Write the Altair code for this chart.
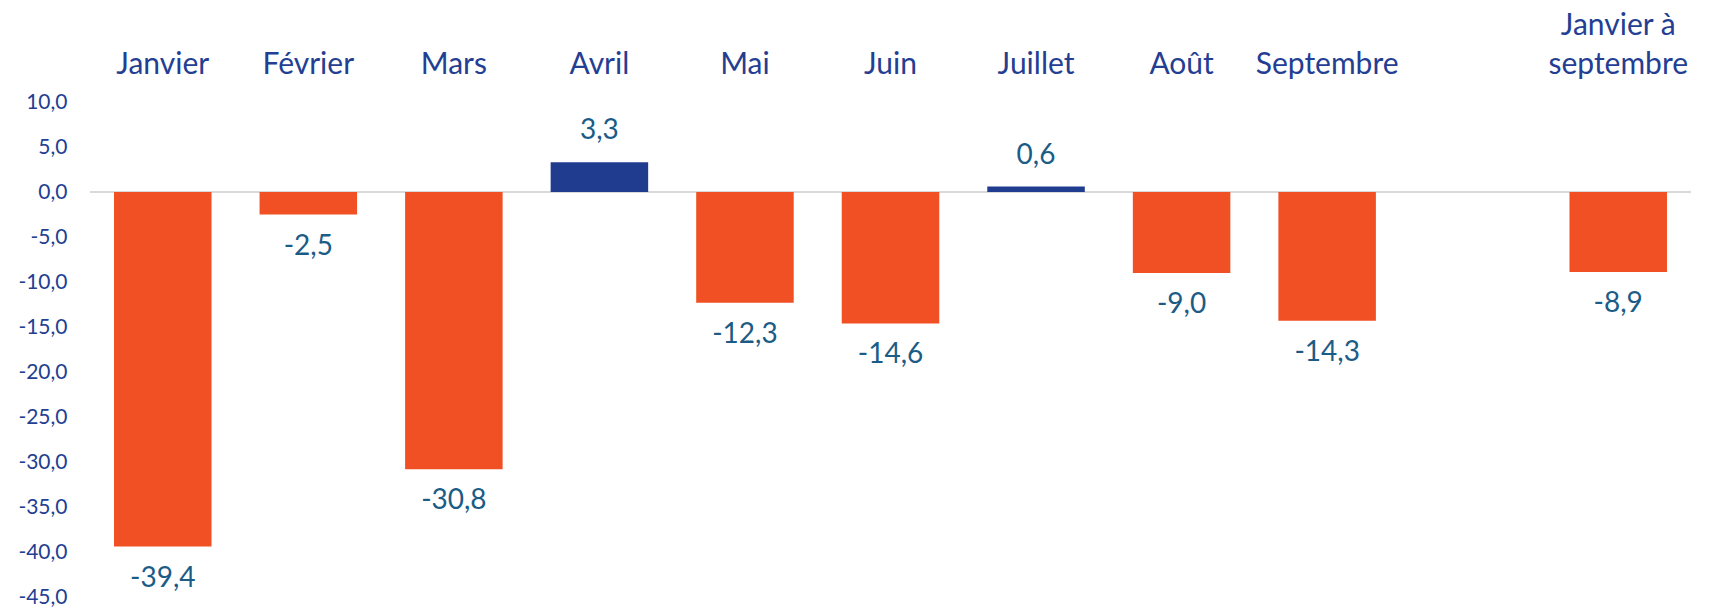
import altair as alt
import pandas as pd

categories = ["Janvier", "Février", "Mars", "Avril", "Mai", "Juin", "Juillet",
              "Août", "Septembre", "Janvier à septembre"]
values = [-39.4, -2.5, -30.8, 3.3, -12.3, -14.6, 0.6, -9.0, -14.3, -8.9]
x_order = ["Janvier", "Février", "Mars", "Avril", "Mai", "Juin", "Juillet",
           "Août", "Septembre", " ", "Janvier à septembre"]
y_ticks = [10, 5, 0, -5, -10, -15, -20, -25, -30, -35, -40, -45]

df = pd.DataFrame({"cat": categories, "value": values})
df["label"] = [f"{v:.1f}".replace(".", ",") for v in values]

FONT = "Lato"
AXIS_COLOR = "#233E92"
LABEL_COLOR = "#1B5C86"
ORANGE = "#F05023"
BLUE = "#1F3C8F"

x_enc = alt.X(
    "cat:N",
    sort=x_order,
    scale=alt.Scale(domain=x_order, paddingInner=0.33, paddingOuter=0.165),
    axis=alt.Axis(
        orient="top", title=None, ticks=False, domain=False, labelAngle=0,
        labelFont=FONT, labelFontSize=30, labelColor=AXIS_COLOR,
        labelPadding=62, labelLineHeight=39, labelLimit=300,
        labelExpr=("datum.label == 'Janvier à septembre' ? ['Janvier à', 'septembre'] : "
                   "(datum.label == ' ' ? '' : ['', datum.label])"),
    ),
)
y_scale = alt.Scale(domain=[-45, 10], nice=False, zero=False)
y_enc = alt.Y(
    "value:Q",
    scale=y_scale,
    axis=alt.Axis(
        title=None, values=y_ticks, ticks=False, domain=False, grid=False,
        labelFont=FONT, labelFontSize=21, labelColor=AXIS_COLOR, labelPadding=23,
        labelExpr="replace(replace(format(datum.value, '.1f'), '.', ','), '−', '-')",
    ),
)

base = alt.Chart(df)

bars = base.mark_bar().encode(
    x=x_enc,
    y=y_enc,
    y2=alt.datum(0),
    color=alt.condition("datum.value > 0", alt.value(BLUE), alt.value(ORANGE)),
)

zero = base.mark_rule(color="#D9D9D9", strokeWidth=2).encode(
    y=alt.datum(0, scale=y_scale)
)

text_style = dict(font=FONT, fontSize=28, color=LABEL_COLOR, baseline="middle", align="center")
neg_labels = base.transform_filter("datum.value < 0").mark_text(dy=32, **text_style).encode(
    x=alt.X("cat:N", sort=x_order), y=alt.Y("value:Q", scale=y_scale), text="label:N"
)
pos_labels = base.transform_filter("datum.value >= 0").mark_text(dy=-31, **text_style).encode(
    x=alt.X("cat:N", sort=x_order), y=alt.Y("value:Q", scale=y_scale), text="label:N"
)

chart = alt.layer(zero, bars, neg_labels, pos_labels).properties(
    width=1601,
    height=495,
    background="white",
    autosize=alt.AutoSizeParams(type="none"),
    padding={"left": 82, "top": 94, "right": 20, "bottom": 12},
).configure_view(strokeWidth=0, stroke=None)

chart.save("out.html", embed_options={"renderer": "svg", "actions": False})
